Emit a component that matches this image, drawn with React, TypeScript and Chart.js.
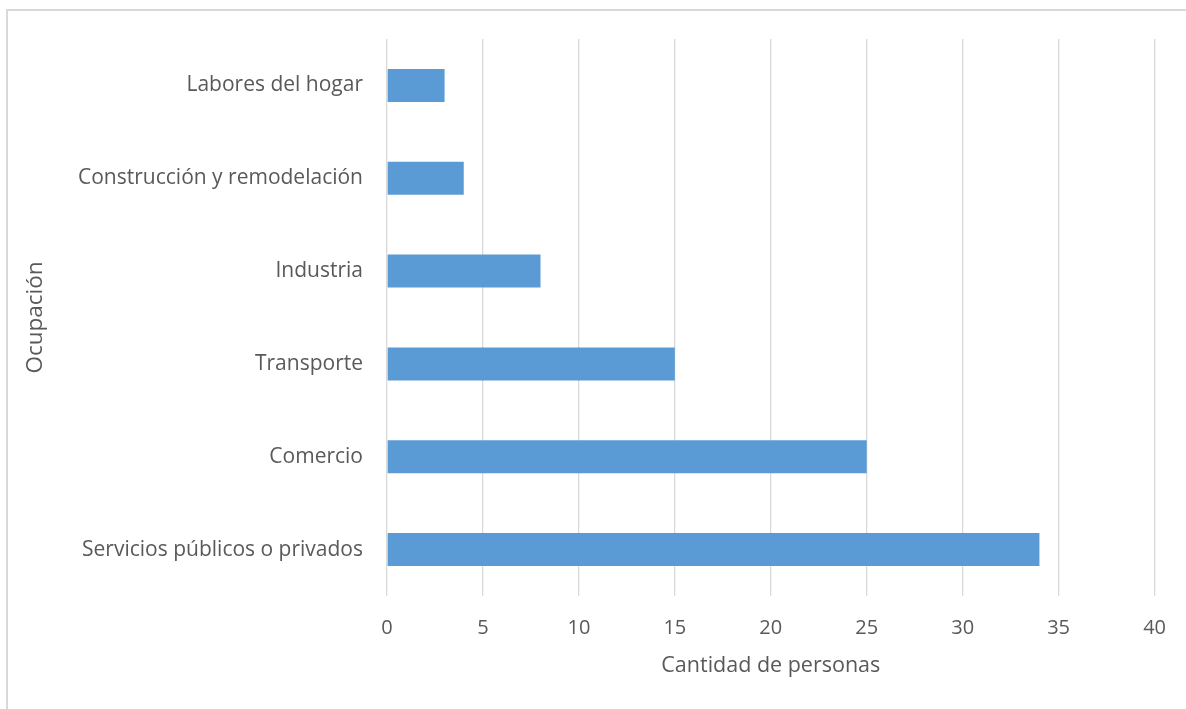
import React, { useEffect, useRef } from "react";
import { Chart, registerables } from "chart.js";

Chart.register(...registerables);

const categories = [
  "Labores del hogar",
  "Construcción y remodelación",
  "Industria",
  "Transporte",
  "Comercio",
  "Servicios públicos o privados",
];
const values = [3, 4, 8, 15, 25, 34];
const xTitle = "Cantidad de personas";
const yTitle = "Ocupación";
const xMin = 0;
const xMax = 40;
const xStep = 5;

const FONT = "'Open Sans', sans-serif";
const TEXT = "#595959";

export default function App() {
  const ref = useRef<HTMLCanvasElement | null>(null);
  useEffect(() => {
    if (!ref.current) return;
    const chart = new Chart(ref.current, {
      type: "bar",
      data: {
        labels: categories,
        datasets: [
          {
            data: values,
            backgroundColor: "#5b9bd5",
            borderWidth: 0,
            categoryPercentage: 1,
            barPercentage: 0.355,
          },
        ],
      },
      options: {
        indexAxis: "y",
        animation: false,
        responsive: false,
        maintainAspectRatio: false,
        layout: { padding: { top: 39, right: 27, left: 22, bottom: 30 } },
        plugins: { legend: { display: false }, tooltip: { enabled: false } },
        scales: {
          x: {
            min: xMin,
            max: xMax,
            ticks: { stepSize: xStep, color: TEXT, font: { family: FONT, size: 20 }, padding: 20 },
            grid: { color: "#d9d9d9", lineWidth: 1.3, drawTicks: false },
            border: { display: false },
            title: { display: true, text: xTitle, color: TEXT, font: { family: FONT, size: 21.5 }, padding: { top: 4, bottom: 0 } },
            afterFit: (s: any) => {
              s.height = 709 - 30 - 596;
            },
          },
          y: {
            ticks: { color: TEXT, font: { family: FONT, size: 21 }, padding: 24 },
            grid: { display: false, drawTicks: false },
            border: { display: false },
            title: { display: true, text: yTitle, color: TEXT, font: { family: FONT, size: 22.5 }, padding: 0 },
            afterFit: (s: any) => {
              s.width = 387 - 22;
            },
          },
        },
      },
    });
    return () => chart.destroy();
  }, []);
  return (
    <div style={{ position: "fixed", left: 0, top: 0, width: 1186, height: 709, background: "#fff", overflow: "hidden" }}>
      <div style={{ position: "absolute", left: 6, top: 9, width: 1300, height: 800, borderTop: "2px solid #d9d9d9", borderLeft: "2px solid #d9d9d9" }} />
      <canvas ref={ref} width={1186} height={709} style={{ position: "absolute", left: 0, top: 0 }} />
    </div>
  );
}
